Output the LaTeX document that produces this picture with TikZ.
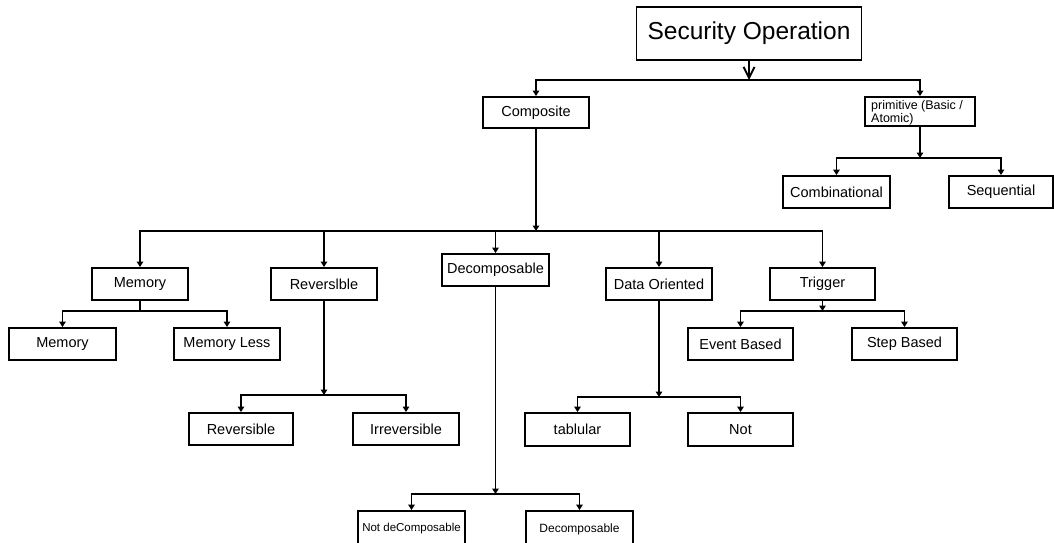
\documentclass[tikz,border=0pt]{standalone}
\usepackage{fontspec}
\setmainfont{Liberation Sans}
\usetikzlibrary{arrows.meta}

\tikzset{
  box/.style={draw, line width=1.9pt, inner sep=0pt, align=center,
    font=\fontsize{14.5}{16}\selectfont},
  link/.style={line width=1.9pt, line join=miter},
  tip/.style={link, -{Triangle[length=5.5pt,width=6.5pt]}},
  barb/.style={link, -{Straight Barb[length=11pt,width=11pt,line width=1.9pt]}},
}

\begin{document}
\begin{tikzpicture}[x=1pt,y=-1pt]
  \useasboundingbox (0,0) rectangle (1054,542);

  % root
  \node[box, minimum width=225pt, minimum height=53pt,
        font=\fontsize{24.5}{28}\selectfont] (sec) at (749,33.5) {Security Operation};

  % first level
  \node[box, minimum width=106pt, minimum height=31pt] (comp) at (536,112.5) {Composite};
  \node[draw, line width=1.9pt, minimum width=110pt, minimum height=29pt] (prim) at (920,111.5) {};
  \node[anchor=north west, inner sep=0pt, align=left,
        font=\fontsize{12.5}{14}\selectfont] (primtxt) at (871,100)
        {primitive (Basic /\\[-0.5pt]Atomic)};

  % primitive children
  \node[box, minimum width=107pt, minimum height=32pt] (comb) at (836.5,192) {Combinational};
  \node[box, minimum width=104pt, minimum height=32pt] (seq) at (1001,192) {Sequential};

  % composite children
  \node[box, minimum width=96pt,  minimum height=32pt] (mem) at (140,284) {Memory};
  \node[box, minimum width=106pt, minimum height=32pt] (rev) at (324,284) {Reverslble};
  \node[box, minimum width=107pt, minimum height=32pt] (dec) at (495.5,270) {Decomposable};
  \node[box, minimum width=106pt, minimum height=32pt] (dat) at (659,284) {Data Oriented};
  \node[box, minimum width=105pt, minimum height=32pt] (trg) at (822.5,284) {Trigger};

  % memory children
  \node[box, minimum width=107pt, minimum height=32pt] (memA) at (62.5,344) {Memory};
  \node[box, minimum width=106pt, minimum height=32pt] (memL) at (227,344) {Memory Less};

  % reversible children
  \node[box, minimum width=104pt, minimum height=32pt] (revA) at (241,429) {Reversible};
  \node[box, minimum width=106pt, minimum height=32pt] (irr) at (406,429) {Irreversible};

  % data oriented children
  \node[box, minimum width=105pt, minimum height=33pt] (tab) at (577.5,429.5) {tablular};
  \node[box, minimum width=105pt, minimum height=33pt] (nt) at (740.5,429.5) {Not};

  % trigger children
  \node[box, minimum width=105pt, minimum height=32pt] (evt) at (740.5,344) {Event Based};
  \node[box, minimum width=105pt, minimum height=32pt] (stp) at (904.5,344) {Step Based};

  % decomposable children
  \node[box, minimum width=107pt, minimum height=36pt, font=\fontsize{11.5}{13}\selectfont]
        (ndc) at (411.5,529) {Not deComposable\vphantom{p}};
  \node[box, minimum width=107pt, minimum height=36pt, font=\fontsize{12}{13}\selectfont]
        (dcc) at (579.5,529) {Decomposable\vphantom{p}};

  % branch points
  \coordinate (jtop) at (749,80);
  \coordinate (jp)   at (920,158);
  \coordinate (jc)   at (536,231);
  \coordinate (jm)   at (140,311);
  \coordinate (jr)   at (324,395);
  \coordinate (jdc)  at (495.5,494);
  \coordinate (jd)   at (659,397);
  \coordinate (jt)   at (822.5,311);

  % root branching
  \draw[barb] (sec.south) -- (jtop);
  \draw[tip] (jtop) -| (comp.north);
  \draw[tip] (jtop) -| (prim.north);

  % primitive branching
  \draw[tip] (prim.south) -- (jp);
  \draw[tip] (jp) -| (comb.north);
  \draw[tip] (jp) -| (seq.north);

  % composite branching
  \draw[tip] (comp.south) -- (jc);
  \foreach \n in {mem,rev,dec,dat,trg}
    \draw[tip] (jc) -| (\n.north);

  % memory
  \draw[link] (mem.south) -- (jm);
  \draw[tip] (jm) -| (memA.north);
  \draw[tip] (jm) -| (memL.north);

  % reversible
  \draw[tip] (rev.south) -- (jr);
  \draw[tip] (jr) -| (revA.north);
  \draw[tip] (jr) -| (irr.north);

  % decomposable
  \draw[tip] (dec.south) -- (jdc);
  \draw[tip] (jdc) -| (ndc.north);
  \draw[tip] (jdc) -| (dcc.north);

  % data oriented
  \draw[tip] (dat.south) -- (jd);
  \draw[tip] (jd) -| (tab.north);
  \draw[tip] (jd) -| (nt.north);

  % trigger
  \draw[tip] (trg.south) -- (jt);
  \draw[tip] (jt) -| (evt.north);
  \draw[tip] (jt) -| (stp.north);
\end{tikzpicture}
\end{document}
